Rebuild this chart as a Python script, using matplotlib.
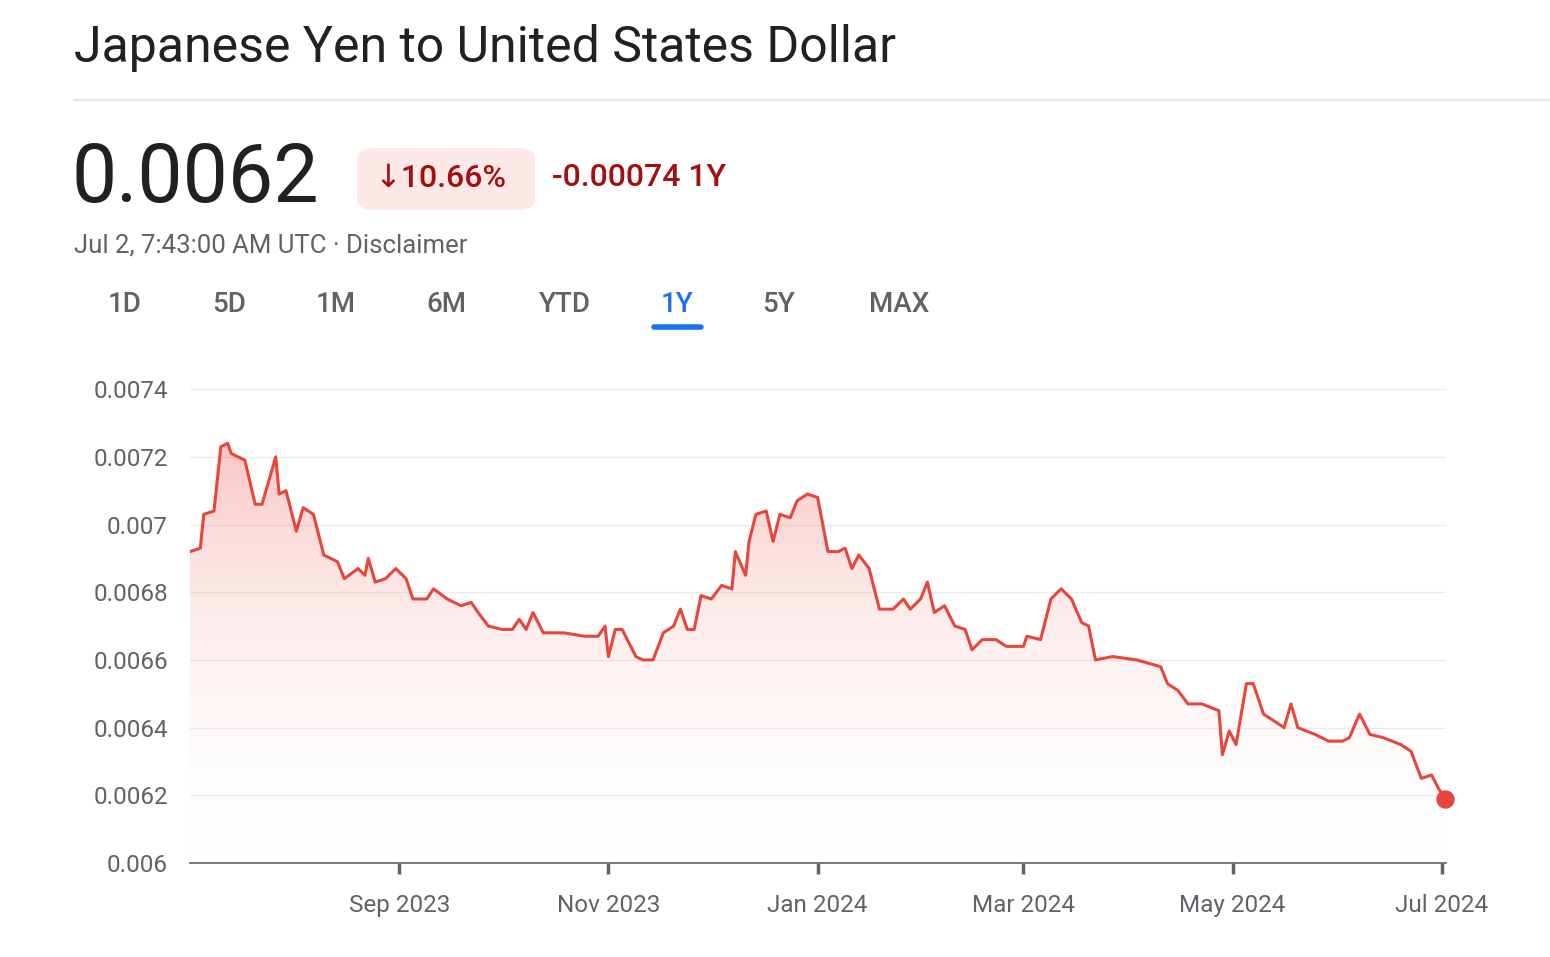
import matplotlib
matplotlib.use('Agg')
import matplotlib.pyplot as plt
import matplotlib.dates as mdates
from matplotlib.patches import FancyBboxPatch
import numpy as np
import pandas as pd

dates = ['2023-07-02', '2023-07-05', '2023-07-06', '2023-07-09', '2023-07-11', '2023-07-13', '2023-07-14',
         '2023-07-18', '2023-07-21', '2023-07-23', '2023-07-25', '2023-07-27', '2023-07-28', '2023-07-30',
         '2023-08-02', '2023-08-04', '2023-08-07', '2023-08-10', '2023-08-14', '2023-08-16', '2023-08-20',
         '2023-08-22', '2023-08-23', '2023-08-25', '2023-08-28', '2023-08-31', '2023-09-03', '2023-09-05',
         '2023-09-09', '2023-09-11', '2023-09-15', '2023-09-19', '2023-09-22', '2023-09-24', '2023-09-27',
         '2023-10-01', '2023-10-04', '2023-10-06', '2023-10-08', '2023-10-10', '2023-10-13', '2023-10-19',
         '2023-10-25', '2023-10-29', '2023-10-31', '2023-11-01', '2023-11-03', '2023-11-05', '2023-11-09',
         '2023-11-11', '2023-11-14', '2023-11-17', '2023-11-20', '2023-11-22', '2023-11-24', '2023-11-26',
         '2023-11-28', '2023-12-01', '2023-12-04', '2023-12-07', '2023-12-08', '2023-12-11', '2023-12-12',
         '2023-12-14', '2023-12-17', '2023-12-19', '2023-12-21', '2023-12-24', '2023-12-26', '2023-12-29',
         '2024-01-01', '2024-01-04', '2024-01-07', '2024-01-09', '2024-01-11', '2024-01-13', '2024-01-16',
         '2024-01-19', '2024-01-23', '2024-01-26', '2024-01-28', '2024-01-31', '2024-02-02', '2024-02-04',
         '2024-02-07', '2024-02-10', '2024-02-13', '2024-02-15', '2024-02-18', '2024-02-22', '2024-02-25',
         '2024-03-01', '2024-03-02', '2024-03-06', '2024-03-09', '2024-03-12', '2024-03-15', '2024-03-18',
         '2024-03-20', '2024-03-22', '2024-03-27', '2024-04-03', '2024-04-10', '2024-04-12', '2024-04-15',
         '2024-04-18', '2024-04-22', '2024-04-27', '2024-04-28', '2024-04-30', '2024-05-02', '2024-05-05',
         '2024-05-07', '2024-05-10', '2024-05-13', '2024-05-16', '2024-05-18', '2024-05-20', '2024-05-25',
         '2024-05-29', '2024-06-02', '2024-06-04', '2024-06-07', '2024-06-10', '2024-06-14', '2024-06-19',
         '2024-06-22', '2024-06-25', '2024-06-28', '2024-06-30', '2024-07-02']
rates = [0.00692, 0.00693, 0.00703, 0.00704, 0.00723, 0.00724, 0.00721,
         0.00719, 0.00706, 0.00706, 0.00713, 0.00720, 0.00709, 0.00710,
         0.00698, 0.00705, 0.00703, 0.00691, 0.00689, 0.00684, 0.00687,
         0.00685, 0.00690, 0.00683, 0.00684, 0.00687, 0.00684, 0.00678,
         0.00678, 0.00681, 0.00678, 0.00676, 0.00677, 0.00674, 0.00670,
         0.00669, 0.00669, 0.00672, 0.00669, 0.00674, 0.00668, 0.00668,
         0.00667, 0.00667, 0.00670, 0.00661, 0.00669, 0.00669, 0.00661,
         0.00660, 0.00660, 0.00668, 0.00670, 0.00675, 0.00669, 0.00669,
         0.00679, 0.00678, 0.00682, 0.00681, 0.00692, 0.00685, 0.00695,
         0.00703, 0.00704, 0.00695, 0.00703, 0.00702, 0.00707, 0.00709,
         0.00708, 0.00692, 0.00692, 0.00693, 0.00687, 0.00691, 0.00687,
         0.00675, 0.00675, 0.00678, 0.00675, 0.00678, 0.00683, 0.00674,
         0.00676, 0.00670, 0.00669, 0.00663, 0.00666, 0.00666, 0.00664,
         0.00664, 0.00667, 0.00666, 0.00678, 0.00681, 0.00678, 0.00671,
         0.00670, 0.00660, 0.00661, 0.00660, 0.00658, 0.00653, 0.00651,
         0.00647, 0.00647, 0.00645, 0.00632, 0.00639, 0.00635, 0.00653,
         0.00653, 0.00644, 0.00642, 0.00640, 0.00647, 0.00640, 0.00638,
         0.00636, 0.00636, 0.00637, 0.00644, 0.00638, 0.00637, 0.00635,
         0.00633, 0.00625, 0.00626, 0.00622, 0.00619]
y_ticks = [0.006, 0.0062, 0.0064, 0.0066, 0.0068, 0.007, 0.0072, 0.0074]
y_labels = ['0.006', '0.0062', '0.0064', '0.0066', '0.0068', '0.007', '0.0072', '0.0074']
x_ticks = ['2023-09-01', '2023-11-01', '2024-01-01', '2024-03-01', '2024-05-01', '2024-07-01']
x_labels = ['Sep 2023', 'Nov 2023', 'Jan 2024', 'Mar 2024', 'May 2024', 'Jul 2024']
tabs = ['1D', '5D', '1M', '6M', 'YTD', '1Y', '5Y', 'MAX']

plt.rcParams['font.family'] = ['Roboto', 'DejaVu Sans']
red = '#e8453c'
W, H = 1550, 957

fig = plt.figure(figsize=(15.5, 9.57), dpi=100)
fig.patch.set_facecolor('white')

def fx(px):
    return px / W

def fy(py):
    return 1 - py / H

# header
fig.text(fx(74), fy(48), 'Japanese Yen to United States Dollar', fontsize=36, color='#202124', va='center')
fig.add_artist(plt.Line2D([fx(74), 1], [fy(100), fy(100)], color='#e0e0e0', lw=1.2))
fig.text(fx(72), fy(180), '0.0062', fontsize=58, color='#202124', va='center')
badge = FancyBboxPatch((fx(357), fy(210)), fx(178), 62 / H, boxstyle='round,pad=0,rounding_size=0.012',
                       transform=fig.transFigure, facecolor='#fce8e6', edgecolor='none')
fig.add_artist(badge)
fig.text(fx(374), fy(178), '↓10.66%', fontsize=23, color='#a50e0e', va='center', weight='medium')
fig.text(fx(552), fy(178), '-0.00074 1Y', fontsize=23, color='#a50e0e', va='center', weight='medium')
fig.text(fx(74), fy(245), 'Jul 2, 7:43:00 AM UTC · Disclaimer', fontsize=18.5, color='#5f6368', va='center')

tab_x = [125, 229, 336, 446, 565, 677, 779, 899]
for t, x in zip(tabs, tab_x):
    c = '#1a73e8' if t == '1Y' else '#5f6368'
    fig.text(fx(x), fy(305), t, fontsize=20, color=c, ha='center', va='center', weight='medium')
fig.add_artist(plt.Line2D([fx(654), fx(701)], [fy(327), fy(327)], color='#1a73e8', lw=4,
                          solid_capstyle='round'))

# chart
ax = fig.add_axes([fx(190), fy(863), fx(1256), (863 - 380) / H])
d = pd.to_datetime(dates)
x = mdates.date2num(d)
v = np.array(rates)
ymin, ymax = 0.006, 0.007427
ax.set_xlim(x[0], x[-1] + 0.2)
ax.set_ylim(ymin, ymax)

# gradient fill clipped to the area under the line
grad = np.linspace(0, 1, 256).reshape(-1, 1)
cmap = matplotlib.colors.LinearSegmentedColormap.from_list('g', [(1, 1, 1, 0), (0.91, 0.27, 0.24, 0.30)])
im = ax.imshow(grad, extent=[x[0], x[-1], ymin, v.max()], origin='lower', aspect='auto', cmap=cmap, zorder=1)
poly = ax.fill_between(x, ymin, v, color='none')
im.set_clip_path(poly.get_paths()[0], transform=ax.transData)

ax.plot(x, v, color=red, lw=2.2, zorder=3)
ax.scatter([x[-1]], [v[-1]], s=150, color=red, zorder=4, clip_on=False)

ax.set_yticks(y_ticks)
ax.set_yticklabels(y_labels)
ax.set_xticks(mdates.date2num(pd.to_datetime(x_ticks)))
ax.set_xticklabels(x_labels)
ax.grid(axis='y', color='#ececec', lw=1)
ax.set_axisbelow(True)
for s in ['top', 'right', 'left']:
    ax.spines[s].set_visible(False)
ax.spines['bottom'].set_color('#5f6368')
ax.spines['bottom'].set_linewidth(1.2)
ax.tick_params(axis='y', length=0, pad=16, labelsize=17.5, labelcolor='#5f6368')
ax.tick_params(axis='x', length=8, width=2.5, color='#5f6368', pad=14, labelsize=17.5, labelcolor='#5f6368')

fig.savefig('out.png', dpi=100, facecolor='white')
